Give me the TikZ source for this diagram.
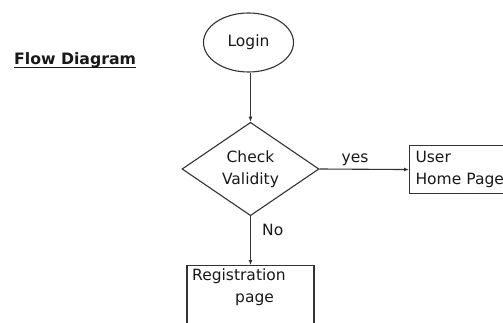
\documentclass[tikz,border=0pt]{standalone}
\usepackage{fontspec}
\setmainfont{DejaVu Sans}
\usetikzlibrary{shapes.geometric,arrows.meta}
\begin{document}
\begin{tikzpicture}[x=1pt,y=-1pt,
  every node/.style={font=\fontsize{15.5}{21.5}\selectfont, text=black!90},
  line/.style={draw=black!80, line width=1.1pt},
  arr/.style={line, -{Latex[length=5pt,width=4pt]}},
  startstop/.style={ellipse, line, minimum width=90pt, minimum height=59pt, inner sep=0pt},
  decision/.style={diamond, line, minimum width=137pt, minimum height=84pt, inner sep=0pt, align=center},
  box/.style={rectangle, line, inner sep=0pt},
  lbl/.style={anchor=base west, inner sep=0pt}]
\clip (0,0) rectangle (503,323);
\fill[white] (0,0) rectangle (503,323);

% heading
\node[lbl, font=\fontsize{15.7}{18}\selectfont\bfseries] (title) at (14,65) {Flow Diagram};
\draw[black!90, line width=1.2pt] ([yshift=-2.8pt]title.base west) -- ([yshift=-2.8pt]title.base east);

% shapes
\node[startstop] (login) at (248.5,42.5) {Login};
\node[decision] (check) at (250.5,169) {Check\\Validity};
\node[box, anchor=north west, minimum width=120pt, minimum height=48pt,
      align=left, text width=108pt, inner xsep=6pt] (home) at (409,145) {User\\Home Page};
\node[box, anchor=north, minimum width=127pt, minimum height=90pt] (reg) at (250.5,265) {};
\node[anchor=base west, inner sep=0pt, align=left] (regtext) at (192,302)
  {Registration\\\hspace*{43pt}page};

% connectors
\draw[arr] (check.north |- login.south) -- (check.north);
\draw[arr] (check.east) -- (home.west);
\draw[arr] (check.south) -- (reg.north);

% branch labels
\node[lbl] (yes) at (341.5,163) {yes};
\node[lbl] (no) at (262,235.5) {No};
\end{tikzpicture}
\end{document}
